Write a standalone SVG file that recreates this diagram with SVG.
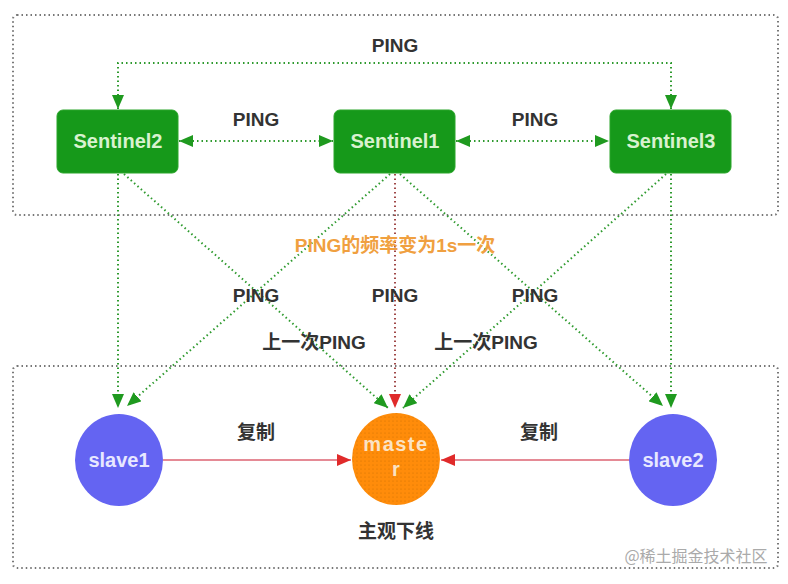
<svg xmlns="http://www.w3.org/2000/svg" width="788" height="584" viewBox="0 0 788 584">
<defs>
<style>
.box{fill:none;stroke:#777;stroke-width:2;stroke-dasharray:1.5 3;}
.g{fill:none;stroke:#2e9a2e;stroke-width:2;stroke-dasharray:1.5 3;}
.r{fill:none;stroke:#a04848;stroke-width:2;stroke-dasharray:1.5 3;}
.s{fill:none;stroke:#e58a95;stroke-width:2;}
.sent{fill:#16991a;stroke:#2aa52a;stroke-width:1;}
.slave{fill:#6464f2;}
.lbl{font-family:"Liberation Sans","Noto Sans CJK SC",sans-serif;font-weight:bold;font-size:19px;fill:#333;text-anchor:middle;}
.nt{font-family:"Liberation Sans","Noto Sans CJK SC",sans-serif;font-weight:bold;font-size:20px;fill:#d9f2cf;text-anchor:middle;}
.wt{font-family:"Liberation Sans","Noto Sans CJK SC",sans-serif;font-weight:bold;font-size:20px;fill:#e8e8ff;text-anchor:middle;}
</style>
<marker id="ag" viewBox="0 0 14 12" refX="14" refY="6" markerWidth="14" markerHeight="12" markerUnits="userSpaceOnUse" orient="auto-start-reverse"><path d="M0,0 L14,6 L0,12 Z" fill="#1f9a1f"/></marker>
<marker id="ar" viewBox="0 0 14 12" refX="14" refY="6" markerWidth="14" markerHeight="12" markerUnits="userSpaceOnUse" orient="auto"><path d="M0,0 L14,6 L0,12 Z" fill="#e02a2a"/></marker>
<pattern id="dots" width="4" height="4" patternUnits="userSpaceOnUse"><rect width="4" height="4" fill="#ff8c0a"/><circle cx="1" cy="1" r="0.5" fill="#c86a00"/></pattern>
</defs>
<rect width="788" height="584" fill="#fff"/>
<rect class="box" x="13" y="15" width="765" height="200" rx="4"/>
<rect class="box" x="13" y="366" width="765" height="202" rx="4"/>
<g id="connectors">
<path class="g" d="M118,109 V63 H671 V109" marker-start="url(#ag)" marker-end="url(#ag)"/>
<path class="g" d="M179,141 H333" marker-start="url(#ag)" marker-end="url(#ag)"/>
<path class="g" d="M456,141 H609" marker-start="url(#ag)" marker-end="url(#ag)"/>
<path class="g" d="M118,174 V408" marker-end="url(#ag)"/>
<path class="g" d="M124,174 L388,408" marker-end="url(#ag)"/>
<path class="g" d="M390,174 L127,406" marker-end="url(#ag)"/>
<path class="r" d="M395,174 V408" marker-end="url(#ar)"/>
<path class="g" d="M400,174 L663,406" marker-end="url(#ag)"/>
<path class="g" d="M666,174 L403,408" marker-end="url(#ag)"/>
<path class="g" d="M671,174 V408" marker-end="url(#ag)"/>
<path class="s" d="M163,460 H351" marker-end="url(#ar)"/>
<path class="s" d="M630,460 H441" marker-end="url(#ar)"/>
</g>
<g id="sentinel2"><rect class="sent" x="57" y="110" width="121" height="63" rx="6"/><text class="nt" x="118" y="148">Sentinel2</text></g>
<g id="sentinel1"><rect class="sent" x="334" y="110" width="121" height="63" rx="6"/><text class="nt" x="395" y="148">Sentinel1</text></g>
<g id="sentinel3"><rect class="sent" x="610" y="110" width="121" height="63" rx="6"/><text class="nt" x="671" y="148">Sentinel3</text></g>
<g id="slave1"><ellipse class="slave" cx="119" cy="460" rx="44" ry="46"/><text class="wt" x="119" y="467">slave1</text></g>
<g id="master"><ellipse cx="396" cy="459" rx="44" ry="46" fill="url(#dots)"/><text class="wt" x="396" y="451" style="fill:#fbe3c4" letter-spacing="1.5">maste</text><text class="wt" x="396" y="476" style="fill:#fbe3c4">r</text></g>
<g id="slave2"><ellipse class="slave" cx="673" cy="460" rx="44" ry="46"/><text class="wt" x="673" y="467">slave2</text></g>
<g id="labels">
<text class="lbl" x="395" y="52">PING</text>
<text class="lbl" x="256" y="126">PING</text>
<text class="lbl" x="535" y="126">PING</text>
<text class="lbl" x="395" y="252" style="fill:#f0a040">PING的频率变为1s一次</text>
<text class="lbl" x="256" y="302">PING</text>
<text class="lbl" x="395" y="302">PING</text>
<text class="lbl" x="535" y="302">PING</text>
<text class="lbl" x="314" y="349">上一次PING</text>
<text class="lbl" x="486" y="349">上一次PING</text>
<text class="lbl" x="256" y="439">复制</text>
<text class="lbl" x="539" y="439">复制</text>
<text class="lbl" x="396" y="538">主观下线</text>
<text x="696" y="562" style="font-family:'Noto Sans CJK SC',sans-serif;font-size:16px;fill:#aaa;text-anchor:middle;">@稀土掘金技术社区</text>
</g>
</svg>
